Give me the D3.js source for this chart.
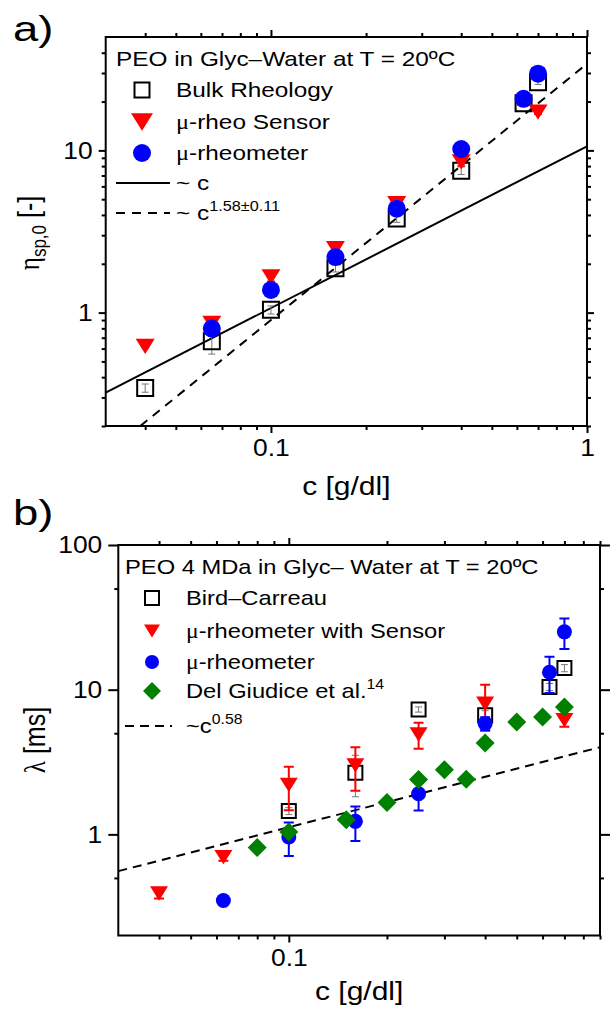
<!DOCTYPE html>
<html>
<head>
<meta charset="utf-8">
<script src="https://cdn.jsdelivr.net/npm/d3@7"></script>
<style>
  body { margin: 0; background: #fff; }
  svg { display: block; }
  text { font-family: "Liberation Sans", Arial, sans-serif; fill: #000; }
  .greek { font-family: "Liberation Serif", "DejaVu Serif", serif; }
</style>
</head>
<body>
<svg id="chart" width="610" height="1009"></svg>
<script>
// ---- panel a: zero-shear specific viscosity ----
const bulkConcA = [0.04, 0.065, 0.1, 0.16, 0.25, 0.4, 0.63, 0.7];
const bulkA = [0.343, 0.665, 1.04, 1.88, 3.8, 7.5, 19.5, 26.3];
const bulkErrA = [0.02, 0.11, 0.06, 0.1, 0.2, 0.4, 0.5, 0.8];
const sensorConcA = [0.04, 0.065, 0.1, 0.16, 0.25, 0.4, 0.7];
const sensorA = [0.62, 0.86, 1.66, 2.48, 4.7, 8.5, 17.2];
const sensorErrA = [0.01, 0.04, 0.1, 0.1, 0.4, 0.5, 0.5];
const rheoConcA = [0.065, 0.1, 0.16, 0.25, 0.4, 0.63, 0.7];
const rheoA = [0.797, 1.38, 2.2, 4.37, 10.2, 20.8, 29.7];
const linearLineA = { c: [0.03, 1], v: [0.321, 10.6] };
const fitLineA = { c: [0.0386, 1], v: [0.2, 34.2] };

// ---- panel b: relaxation time ----
const birdConcB = [0.1, 0.16, 0.25, 0.4, 0.63, 0.7];
const birdB = [1.45, 2.67, 7.3, 6.66, 10.45, 14.1];
const birdErrB = [0.08, 0.85, 0.3, 0.5, 0.6, 0.8];
const sensorConcB = [0.04, 0.063, 0.1, 0.16, 0.25, 0.4, 0.7];
const sensorB = [0.39, 0.696, 2.2, 3.0, 4.9, 8.0, 6.15];
const sensorErrB = [0.03, 0.04, 0.73, 1.0, 1.0, 2.8, 0.6];
const rheoConcB = [0.063, 0.1, 0.16, 0.25, 0.4, 0.63, 0.7];
const rheoB = [0.349, 0.96, 1.23, 1.91, 5.84, 13.2, 25.1];
const rheoErrB = [0.01, 0.25, 0.33, 0.45, 0.6, 3.7, 6.0];
const giudiceConcB = [0.08, 0.1, 0.15, 0.2, 0.25, 0.3, 0.35, 0.4, 0.5, 0.6, 0.7];
const giudiceB = [0.81, 1.04, 1.26, 1.66, 2.39, 2.8, 2.4, 4.28, 5.99, 6.48, 7.6];
const fitLineB = { c: [0.03, 0.9], v: [0.557, 4.0] };

// tick values
const xMajorA = [0.1, 1], xMajorB = [0.1];
const xMinor = [0.04, 0.05, 0.06, 0.07, 0.08, 0.09, 0.2, 0.3, 0.4, 0.5, 0.6, 0.7, 0.8, 0.9];
const yMajorA = [1, 10];
const yMinorA = [0.2, 0.3, 0.4, 0.5, 0.6, 0.7, 0.8, 0.9, 2, 3, 4, 5, 6, 7, 8, 9, 20, 30, 40];
const yMajorB = [1, 10, 100];
const yMinorB = [0.5, 5, 50];

const svg = d3.select('#chart');

// the original text is a bit wider than Liberation Sans
const STRETCH = 1.15;

// marker shapes, size = width in px
const shapes = {
  square: { draw(ctx, s) { ctx.rect(-s / 2, -s / 2, s, s); } },
  circle: { draw(ctx, s) { ctx.moveTo(s / 2, 0); ctx.arc(0, 0, s / 2, 0, 2 * Math.PI); } },
  triDown: { draw(ctx, s) { const h = s * 0.8; ctx.moveTo(-s / 2, -h / 2); ctx.lineTo(s / 2, -h / 2); ctx.lineTo(0, h / 2); ctx.closePath(); } },
  diamond: { draw(ctx, s) { ctx.moveTo(0, -s / 2); ctx.lineTo(s / 2, 0); ctx.lineTo(0, s / 2); ctx.lineTo(-s / 2, 0); ctx.closePath(); } }
};

function wideText(sel, x, y, sx) {
  return sel.append('text').attr('transform', `translate(${x},${y}) scale(${sx},1)`);
}

function drawPanel(p) {
  const x = d3.scaleLog().domain(p.xDomain).range(p.xRange);
  const y = d3.scaleLog().domain(p.yDomain).range(p.yRange);
  const g = svg.append('g');

  g.append('clipPath').attr('id', 'clip-' + p.id).append('rect')
    .attr('x', p.xRange[0]).attr('y', p.yRange[1])
    .attr('width', p.xRange[1] - p.xRange[0]).attr('height', p.yRange[0] - p.yRange[1]);

  function addAxis(axis, transform, major, minor, majorLen, labels) {
    const a1 = g.append('g').attr('transform', transform)
      .call(axis.tickValues(minor).tickSize(4).tickSizeOuter(0).tickFormat(''));
    a1.select('.domain').remove();
    const a2 = g.append('g').attr('transform', transform)
      .call(axis.tickValues(major).tickSize(majorLen).tickSizeOuter(0).tickPadding(p.pad)
        .tickFormat(labels ? d3.format('~g') : ''));
    a2.select('.domain').remove();
    g.selectAll('.tick line').attr('stroke', '#000').attr('stroke-width', 2);
    a2.selectAll('text').attr('font-size', 24).attr('fill', '#000')
      .attr('font-family', '"Liberation Sans", Arial, sans-serif')
      .each(function () {
        const t = d3.select(this);
        const tx = +t.attr('x') || 0, ty = +t.attr('y') || 0;
        t.attr('x', 0).attr('y', 0).attr('transform', `translate(${tx},${ty}) scale(1.1,1)`);
      });
  }
  addAxis(d3.axisBottom(x), `translate(0,${p.yRange[0]})`, p.xMajor, xMinor, 7, true);
  addAxis(d3.axisTop(x), `translate(0,${p.yRange[1]})`, p.xMajor, xMinor, 7, false);
  addAxis(d3.axisLeft(y), `translate(${p.xRange[0]},0)`, p.yMajor, p.yMinor, p.yMajorLen, true);
  addAxis(d3.axisRight(y), `translate(${p.xRange[1]},0)`, p.yMajor, p.yMinor, p.yMajorLen, false);

  g.append('rect')
    .attr('x', p.xRange[0]).attr('y', p.yRange[1])
    .attr('width', p.xRange[1] - p.xRange[0]).attr('height', p.yRange[0] - p.yRange[1])
    .attr('fill', 'none').attr('stroke', '#000').attr('stroke-width', 2);

  // fit lines
  const plot = g.append('g').attr('clip-path', `url(#clip-${p.id})`);
  const line = d3.line().x(d => x(d[0])).y(d => y(d[1]));
  p.lines.forEach(l => {
    plot.append('path')
      .attr('d', line(d3.zip(l.data.c, l.data.v)))
      .attr('fill', 'none').attr('stroke', '#000').attr('stroke-width', 2)
      .attr('stroke-dasharray', l.dash || null);
  });

  // series: error bars then markers
  p.series.forEach(s => {
    const pts = s.c.map((c, i) => ({ c, v: s.v[i], e: s.err ? s.err[i] : 0 }));
    if (s.err) {
      const eb = plot.append('g').attr('stroke', s.errColor).attr('stroke-width', s.errWidth || 1.5);
      pts.forEach(d => {
        const cx = x(d.c), y1 = y(d.v + d.e), y0 = y(Math.max(d.v - d.e, 1e-3));
        eb.append('line').attr('x1', cx).attr('x2', cx).attr('y1', y1).attr('y2', y0);
        eb.append('line').attr('x1', cx - s.cap).attr('x2', cx + s.cap).attr('y1', y1).attr('y2', y1);
        eb.append('line').attr('x1', cx - s.cap).attr('x2', cx + s.cap).attr('y1', y0).attr('y2', y0);
      });
    }
    plot.selectAll(null).data(pts).join('path')
      .attr('transform', d => `translate(${x(d.c)},${y(d.v)})`)
      .attr('d', d3.symbol().type(shapes[s.shape]).size(s.size))
      .attr('fill', s.fill).attr('stroke', s.stroke || 'none').attr('stroke-width', 2);
  });

  // legend
  const lg = g.append('g');
  wideText(lg, p.legend.x0, p.legend.rows[0], p.legend.sx2).attr('dy', '0.35em')
    .attr('font-size', 21).text(p.legend.title);
  p.legend.items.forEach((it, i) => {
    const ly = p.legend.rows[i + 1];
    if (it.series) {
      const s = it.series;
      lg.append('path').attr('transform', `translate(${p.legend.sx},${ly})`)
        .attr('d', d3.symbol().type(shapes[s.shape]).size(it.size))
        .attr('fill', s.fill).attr('stroke', s.stroke || 'none').attr('stroke-width', 2);
    } else {
      lg.append('line').attr('x1', p.legend.lx[0]).attr('x2', p.legend.lx[1])
        .attr('y1', ly).attr('y2', ly).attr('stroke', '#000').attr('stroke-width', 2)
        .attr('stroke-dasharray', it.dash || null);
    }
    const t = wideText(lg, p.legend.tx, ly, p.legend.sx2).attr('dy', '0.35em').attr('font-size', 21);
    it.parts.forEach(part => {
      const ts = t.append('tspan').text(part.t);
      if (part.greek) ts.attr('class', 'greek');
      if (part.sup) ts.attr('font-size', 14).attr('dy', -9);
    });
  });

  // axis titles
  wideText(g, (p.xRange[0] + p.xRange[1]) / 2, p.xTitleY, 1.2)
    .attr('text-anchor', 'middle').attr('font-size', 25).text('c [g/dl]');
  const yt = g.append('text')
    .attr('transform', `translate(${p.yTitleX},${p.yTitleY}) rotate(-90) scale(1,${STRETCH})`)
    .attr('text-anchor', 'middle').attr('font-size', 25);
  p.yTitle.forEach(part => {
    const ts = yt.append('tspan').text(part.t);
    if (part.greek) ts.attr('class', 'greek');
    if (part.sub) ts.attr('font-size', 17).attr('dy', 6);
    if (part.back) ts.attr('dy', -6);
  });

  wideText(svg, 13, p.tagY, 1.3).attr('font-size', 35).text(p.tag);
}

const bulkSeries = { c: bulkConcA, v: bulkA, err: bulkErrA, errColor: '#777', errWidth: 1, cap: 3.5, shape: 'square', size: 16, fill: 'none', stroke: '#000' };
const sensorSeriesA = { c: sensorConcA, v: sensorA, err: sensorErrA, errColor: '#ff0000', cap: 4, shape: 'triDown', size: 19, fill: '#ff0000' };
const rheoSeriesA = { c: rheoConcA, v: rheoA, shape: 'circle', size: 18, fill: '#0000ff' };

drawPanel({
  id: 'a', tag: 'a)', tagY: 41,
  xDomain: [0.03, 1], xRange: [105.7, 587],
  yDomain: [0.2, 50], yRange: [426, 37],
  xMajor: xMajorA, yMajor: yMajorA, yMinor: yMinorA, yMajorLen: 7, pad: 6,
  xTitleY: 495, yTitleX: 39, yTitleY: 233,
  yTitle: [{ t: 'η', greek: true }, { t: 'sp,0', sub: true }, { t: ' [-]', back: true }],
  lines: [{ data: linearLineA }, { data: fitLineA, dash: '9,7' }],
  series: [bulkSeries, sensorSeriesA, rheoSeriesA],
  legend: {
    x0: 116, sx: 142, tx: 176, lx: [116, 170], sx2: 1.16,
    rows: [59, 90, 122, 153, 183, 213],
    title: 'PEO in Glyc\u2013Water at T = 20\u00baC',
    items: [
      { series: bulkSeries, size: 15, parts: [{ t: 'Bulk Rheology' }] },
      { series: sensorSeriesA, size: 22, parts: [{ t: 'μ', greek: true }, { t: '-rheo Sensor' }] },
      { series: rheoSeriesA, size: 18, parts: [{ t: 'μ', greek: true }, { t: '-rheometer' }] },
      { parts: [{ t: '~ c' }] },
      { dash: '9,7', parts: [{ t: '~ c' }, { t: '1.58\u00b10.11', sup: true }] }
    ]
  }
});

const birdSeries = { c: birdConcB, v: birdB, err: birdErrB, errColor: '#777', errWidth: 1, cap: 3.5, shape: 'square', size: 14, fill: 'none', stroke: '#000' };
const sensorSeriesB = { c: sensorConcB, v: sensorB, err: sensorErrB, errColor: '#ff0000', errWidth: 2, cap: 5, shape: 'triDown', size: 18, fill: '#ff0000' };
const rheoSeriesB = { c: rheoConcB, v: rheoB, err: rheoErrB, errColor: '#0000ff', errWidth: 2, cap: 5, shape: 'circle', size: 15, fill: '#0000ff' };
const giudiceSeries = { c: giudiceConcB, v: giudiceB, shape: 'diamond', size: 19, fill: '#008000' };

drawPanel({
  id: 'b', tag: 'b)', tagY: 525,
  xDomain: [0.03, 0.9], xRange: [118.3, 600],
  yDomain: [0.2, 100], yRange: [935.5, 545],
  xMajor: xMajorB, yMajor: yMajorB, yMinor: yMinorB, yMajorLen: 10, pad: 6,
  xTitleY: 1000, yTitleX: 45, yTitleY: 740,
  yTitle: [{ t: 'λ', greek: true }, { t: ' [ms]' }],
  lines: [{ data: fitLineB, dash: '9,6' }],
  series: [birdSeries, sensorSeriesB, rheoSeriesB, giudiceSeries],
  legend: {
    x0: 125, sx: 152, tx: 186, lx: [125, 172], sx2: 1.13,
    rows: [567, 598, 631, 662, 691, 726],
    title: 'PEO 4 MDa in Glyc\u2013 Water at T = 20\u00baC',
    items: [
      { series: birdSeries, size: 14, parts: [{ t: 'Bird\u2013Carreau' }] },
      { series: sensorSeriesB, size: 16, parts: [{ t: 'μ', greek: true }, { t: '-rheometer with Sensor' }] },
      { series: rheoSeriesB, size: 14, parts: [{ t: 'μ', greek: true }, { t: '-rheometer' }] },
      { series: giudiceSeries, size: 18, parts: [{ t: 'Del Giudice et al.' }, { t: '14', sup: true }] },
      { dash: '9,6', parts: [{ t: '~c' }, { t: '0.58', sup: true }] }
    ]
  }
});
</script>
</body>
</html>
